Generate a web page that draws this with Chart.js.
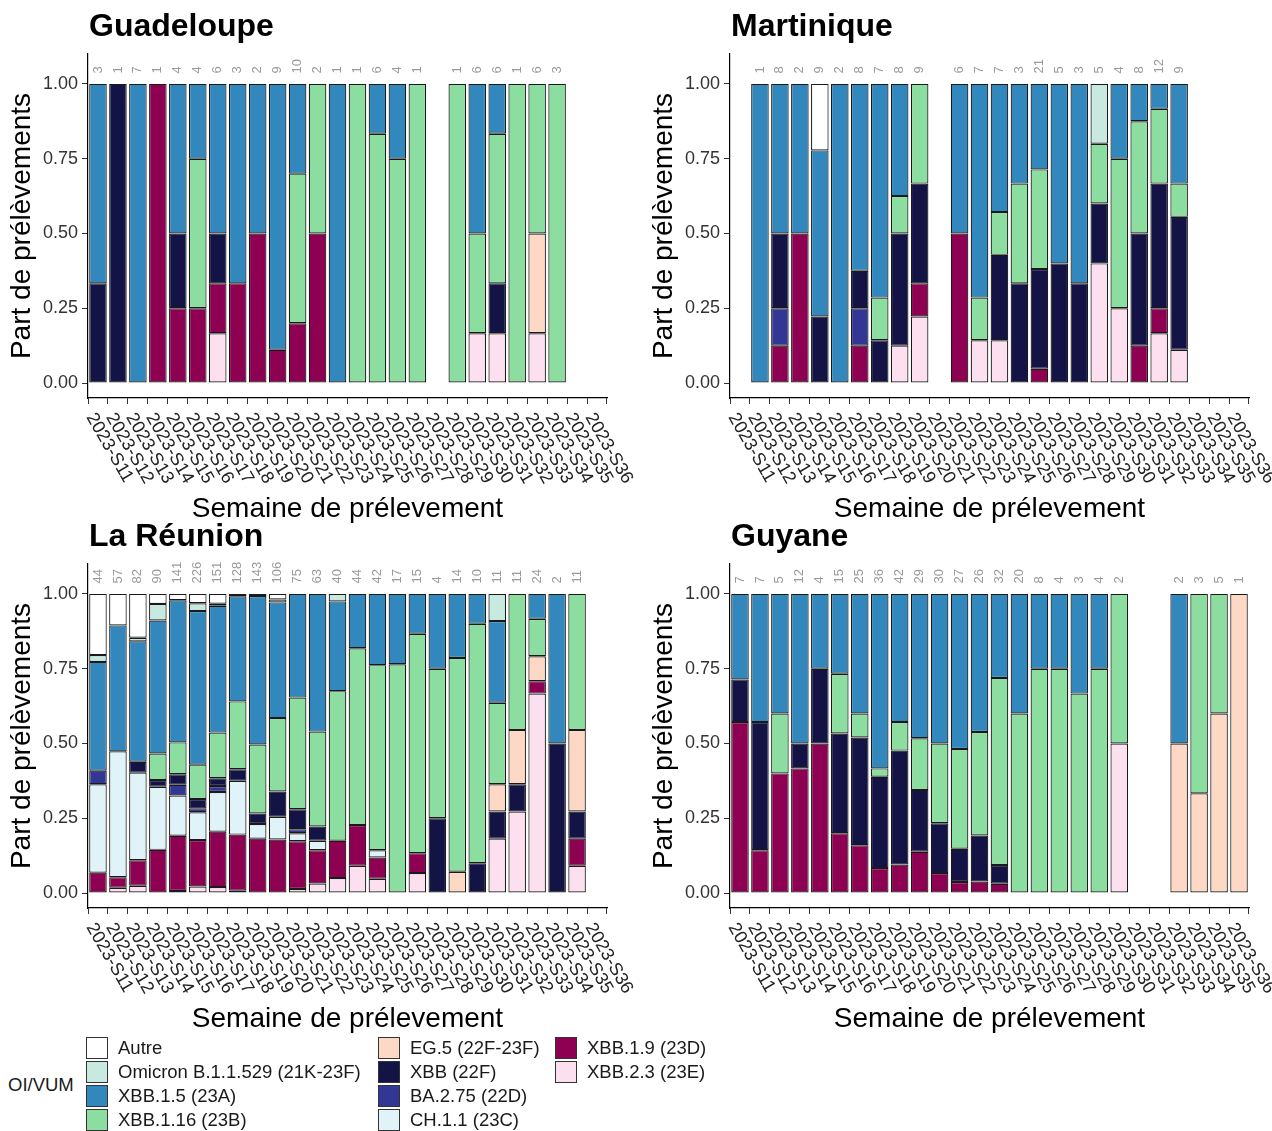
<!DOCTYPE html>
<html>
<head>
<meta charset="utf-8">
<script src="https://cdn.jsdelivr.net/npm/chart.js@4.4.1/dist/chart.umd.min.js"></script>
<style>
  body { margin: 0; background: #fff; font-family: "Liberation Sans", Arial, sans-serif; }
  #fig { position: relative; width: 1272px; height: 1131px; overflow: hidden; }
  #fig canvas { position: absolute; }
  .key { position: absolute; font-size: 18.5px; color: #1a1a1a; white-space: nowrap; line-height: 22px; }
  .key span { position: absolute; left: 0; top: 0; width: 20px; height: 20px; border: 1px solid #333; }
  .key b { font-weight: normal; position: absolute; left: 32px; top: 0; }
</style>
</head>
<body>
<div id="fig">
  <canvas id="c-gp" width="642" height="530" style="left:0;top:0"></canvas>
  <canvas id="c-mq" width="630" height="530" style="left:642px;top:0"></canvas>
  <canvas id="c-re" width="642" height="530" style="left:0;top:510px"></canvas>
  <canvas id="c-gy" width="630" height="530" style="left:642px;top:510px"></canvas>
  <div id="legend"></div>
</div>
<script>
const weeks = ['2023-S11', '2023-S12', '2023-S13', '2023-S14', '2023-S15', '2023-S16', '2023-S17',
    '2023-S18', '2023-S19', '2023-S20', '2023-S21', '2023-S22', '2023-S23', '2023-S24', '2023-S25',
    '2023-S26', '2023-S27', '2023-S28', '2023-S29', '2023-S30', '2023-S31', '2023-S32', '2023-S33',
    '2023-S34', '2023-S35', '2023-S36'];
const yTicks = [0, 0.25, 0.5, 0.75, 1];

const variantNames = ['Autre', 'Omicron B.1.1.529 (21K-23F)', 'XBB.1.5 (23A)', 'XBB.1.16 (23B)',
    'EG.5 (22F-23F)', 'XBB (22F)', 'BA.2.75 (22D)', 'CH.1.1 (23C)', 'XBB.1.9 (23D)', 'XBB.2.3 (23E)'];
const variantColors = ['#ffffff', '#c7e9e0', '#3288bd', '#8cdea0',
    '#fdd9c5', '#131346', '#323695', '#e0f3f8', '#8e0152', '#fde0ef'];

// number of sequenced samples per week (labels above the bars)
const gpTotals = [3, 1, 7, 1, 4, 4, 6, 3, 2, 9, 10, 2, 1, 1, 6, 4, 1, 0, 1, 6, 6, 1, 6, 3, 0, 0];
const mqTotals = [0, 1, 8, 2, 9, 2, 8, 7, 8, 9, 0, 6, 7, 7, 3, 21, 5, 3, 5, 4, 8, 12, 9, 0, 0, 0];
const reTotals = [44, 57, 82, 90, 141, 226, 151, 128, 143, 106, 75, 63, 40, 44, 42, 17, 15, 4, 14, 10, 11, 11, 24, 2, 11, 0];
const gyTotals = [7, 7, 5, 12, 4, 15, 25, 36, 42, 29, 30, 27, 26, 32, 20, 8, 4, 3, 4, 2, 0, 0, 2, 3, 5, 1];

// Guadeloupe, samples per variant
const gpXBB15  = [2, 0, 7, 0, 2, 1, 3, 2, 1, 8, 3, 0, 1, 0, 1, 1, 0, 0, 0, 3, 1, 0, 0, 0, 0, 0];
const gpXBB116 = [0, 0, 0, 0, 0, 2, 0, 0, 0, 0, 5, 1, 0, 1, 5, 3, 1, 0, 1, 2, 3, 1, 3, 3, 0, 0];
const gpEG5    = [0, 0, 0, 0, 0, 0, 0, 0, 0, 0, 0, 0, 0, 0, 0, 0, 0, 0, 0, 0, 0, 0, 2, 0, 0, 0];
const gpXBB    = [1, 1, 0, 0, 1, 0, 1, 0, 0, 0, 0, 0, 0, 0, 0, 0, 0, 0, 0, 0, 1, 0, 0, 0, 0, 0];
const gpXBB19  = [0, 0, 0, 1, 1, 1, 1, 1, 1, 1, 2, 1, 0, 0, 0, 0, 0, 0, 0, 0, 0, 0, 0, 0, 0, 0];
const gpXBB23  = [0, 0, 0, 0, 0, 0, 1, 0, 0, 0, 0, 0, 0, 0, 0, 0, 0, 0, 0, 1, 1, 0, 1, 0, 0, 0];

// Martinique
const mqAutre   = [0, 0, 0, 0, 2, 0, 0, 0, 0, 0, 0, 0, 0, 0, 0, 0, 0, 0, 0, 0, 0, 0, 0, 0, 0, 0];
const mqOmicron = [0, 0, 0, 0, 0, 0, 0, 0, 0, 0, 0, 0, 0, 0, 0, 0, 0, 0, 1, 0, 0, 0, 0, 0, 0, 0];
const mqXBB15   = [0, 1, 4, 1, 5, 2, 5, 5, 3, 0, 0, 3, 5, 3, 1, 6, 3, 2, 0, 1, 1, 1, 3, 0, 0, 0];
const mqXBB116  = [0, 0, 0, 0, 0, 0, 0, 1, 1, 3, 0, 0, 1, 1, 1, 7, 0, 0, 1, 2, 3, 3, 1, 0, 0, 0];
const mqXBB     = [0, 0, 2, 0, 2, 0, 1, 1, 3, 3, 0, 0, 0, 2, 1, 7, 2, 1, 1, 0, 3, 5, 4, 0, 0, 0];
const mqBA275   = [0, 0, 1, 0, 0, 0, 1, 0, 0, 0, 0, 0, 0, 0, 0, 0, 0, 0, 0, 0, 0, 0, 0, 0, 0, 0];
const mqXBB19   = [0, 0, 1, 1, 0, 0, 1, 0, 0, 1, 0, 3, 0, 0, 0, 1, 0, 0, 0, 0, 1, 1, 0, 0, 0, 0];
const mqXBB23   = [0, 0, 0, 0, 0, 0, 0, 0, 1, 2, 0, 0, 1, 1, 0, 0, 0, 0, 2, 1, 0, 2, 1, 0, 0, 0];

// La Réunion
const reAutre   = [9, 6, 12, 3, 3, 7, 5, 1, 1, 2, 0, 0, 0, 0, 0, 0, 0, 0, 0, 0, 0, 0, 0, 0, 0, 0];
const reOmicron = [1, 0, 1, 5, 0, 6, 1, 0, 0, 1, 0, 0, 1, 0, 0, 0, 0, 0, 0, 0, 1, 0, 0, 0, 0, 0];
const reXBB15   = [16, 24, 33, 40, 67, 116, 64, 45, 71, 41, 26, 29, 12, 8, 10, 4, 2, 1, 3, 1, 3, 0, 2, 1, 0, 0];
const reXBB116  = [0, 0, 0, 8, 15, 26, 23, 29, 33, 26, 28, 20, 20, 26, 26, 13, 11, 2, 10, 8, 3, 5, 3, 0, 5, 0];
const reEG5     = [0, 0, 0, 0, 0, 0, 0, 0, 0, 0, 0, 0, 0, 0, 0, 0, 0, 0, 1, 0, 1, 2, 2, 0, 3, 0];
const reXBB     = [0, 0, 3, 2, 5, 7, 4, 5, 5, 9, 5, 3, 0, 0, 0, 0, 0, 1, 0, 1, 1, 1, 0, 1, 1, 0];
const reBA275   = [2, 0, 0, 0, 5, 3, 3, 0, 0, 0, 1, 0, 0, 0, 0, 0, 0, 0, 0, 0, 0, 0, 0, 0, 0, 0];
const reCH11    = [13, 24, 24, 19, 19, 21, 20, 23, 7, 8, 2, 2, 0, 0, 1, 0, 0, 0, 0, 0, 0, 0, 0, 0, 0, 0];
const reXBB19   = [3, 2, 7, 13, 26, 35, 28, 24, 26, 19, 12, 7, 5, 6, 3, 0, 1, 0, 0, 0, 0, 0, 1, 0, 1, 0];
const reXBB23   = [0, 1, 2, 0, 1, 5, 3, 1, 0, 0, 1, 2, 2, 4, 2, 0, 1, 0, 0, 0, 2, 3, 16, 0, 1, 0];

// Guyane
const gyXBB15  = [2, 3, 2, 6, 1, 4, 10, 21, 18, 14, 15, 14, 12, 9, 8, 2, 1, 1, 1, 0, 0, 0, 1, 0, 0, 0];
const gyXBB116 = [0, 0, 1, 0, 0, 3, 2, 1, 4, 5, 8, 9, 9, 20, 12, 6, 3, 2, 3, 1, 0, 0, 0, 2, 2, 0];
const gyEG5    = [0, 0, 0, 0, 0, 0, 0, 0, 0, 0, 0, 0, 0, 0, 0, 0, 0, 0, 0, 0, 0, 0, 1, 1, 3, 1];
const gyXBB    = [1, 3, 0, 1, 1, 5, 9, 11, 16, 6, 5, 3, 4, 2, 0, 0, 0, 0, 0, 0, 0, 0, 0, 0, 0, 0];
const gyXBB19  = [4, 1, 2, 5, 2, 3, 4, 3, 4, 4, 2, 1, 1, 1, 0, 0, 0, 0, 0, 0, 0, 0, 0, 0, 0, 0];
const gyXBB23  = [0, 0, 0, 0, 0, 0, 0, 0, 0, 0, 0, 0, 0, 0, 0, 0, 0, 0, 0, 1, 0, 0, 0, 0, 0, 0];

const FONT = '"Liberation Sans", Arial, sans-serif';
Chart.defaults.font.family = FONT;

const panelTitle = {
    id: 'panelTitle',
    afterDraw(chart, args, opts) {
        const ctx = chart.ctx;
        ctx.save();
        ctx.font = 'bold 32px ' + FONT;
        ctx.fillStyle = '#000';
        ctx.textBaseline = 'alphabetic';
        ctx.fillText(opts.text, chart.chartArea.left + 1, opts.baseline);
        ctx.restore();
    }
};

// sample counts, rotated, above each bar
const countLabels = {
    id: 'countLabels',
    afterDatasetsDraw(chart, args, opts) {
        const {ctx, scales: {x, y}} = chart;
        ctx.save();
        ctx.font = '13px ' + FONT;
        ctx.fillStyle = '#9a9a9a';
        ctx.textAlign = 'left';
        ctx.textBaseline = 'middle';
        opts.totals.forEach((n, i) => {
            if (!n) return;
            ctx.save();
            ctx.translate(x.getPixelForValue(i), y.getPixelForValue(1.035));
            ctx.rotate(-Math.PI / 2);
            ctx.fillText(String(n), 0, 0);
            ctx.restore();
        });
        ctx.restore();
    }
};

// week labels slanted downwards to the right
const weekLabels = {
    id: 'weekLabels',
    afterDraw(chart) {
        const {ctx, scales: {x}} = chart;
        ctx.save();
        ctx.font = '18px ' + FONT;
        ctx.fillStyle = '#222';
        ctx.textAlign = 'left';
        ctx.textBaseline = 'top';
        weeks.forEach((w, i) => {
            ctx.save();
            ctx.translate(x.getPixelForTick(i), x.top + 12);
            ctx.rotate(60 * Math.PI / 180);
            ctx.fillText(w, 0, 0);
            ctx.restore();
        });
        ctx.restore();
    }
};

function makePanel(canvasId, title, totals, series, padRight) {
    // series are listed bottom -> top
    const sums = weeks.map((w, i) => series.reduce((s, [, counts]) => s + counts[i], 0));
    const datasets = series.map(([name, counts]) => ({
        label: name,
        data: counts.map((c, i) => c > 0 ? c / sums[i] : null),
        backgroundColor: variantColors[variantNames.indexOf(name)],
        borderColor: '#1a1a1a',
        borderWidth: 1.2,
        borderSkipped: false,
        barPercentage: 0.88,
        categoryPercentage: 1
    }));

    return new Chart(document.getElementById(canvasId), {
        type: 'bar',
        data: { labels: weeks, datasets: datasets },
        plugins: [panelTitle, countLabels, weekLabels],
        options: {
            responsive: false,
            animation: false,
            layout: { padding: { top: 54, left: 0, right: padRight, bottom: 0 } },
            plugins: {
                legend: { display: false },
                tooltip: { enabled: false },
                panelTitle: { text: title, baseline: 36 },
                countLabels: { totals: totals }
            },
            scales: {
                x: {
                    stacked: true,
                    offset: true,
                    grid: { drawOnChartArea: false, drawTicks: true, tickLength: 6, color: '#333', lineWidth: 1 },
                    border: { display: true, color: '#000', width: 1.2 },
                    ticks: { display: false },
                    title: {
                        display: true, text: 'Semaine de prélevement', color: '#000',
                        font: { size: 28 }, padding: { top: 0, bottom: 4 }
                    },
                    afterFit: scale => { scale.height = 132; }
                },
                y: {
                    stacked: true,
                    min: -0.05,
                    max: 1.1,
                    afterBuildTicks: scale => { scale.ticks = yTicks.map(v => ({ value: v })); },
                    grid: { drawOnChartArea: false, drawTicks: true, tickLength: 6, color: '#333', lineWidth: 1 },
                    border: { display: true, color: '#000', width: 1.2 },
                    ticks: {
                        color: '#333', font: { size: 18 }, padding: 4,
                        callback: v => Number(v).toFixed(2)
                    },
                    title: {
                        display: true, text: 'Part de prélèvements', color: '#000',
                        font: { size: 28 }, padding: { top: 5, bottom: 0 }
                    },
                    afterFit: scale => { scale.width = 88; }
                }
            }
        }
    });
}

makePanel('c-gp', 'Guadeloupe', gpTotals, [
    ['XBB.2.3 (23E)', gpXBB23], ['XBB.1.9 (23D)', gpXBB19], ['XBB (22F)', gpXBB],
    ['EG.5 (22F-23F)', gpEG5], ['XBB.1.16 (23B)', gpXBB116], ['XBB.1.5 (23A)', gpXBB15]
], 35);

makePanel('c-mq', 'Martinique', mqTotals, [
    ['XBB.2.3 (23E)', mqXBB23], ['XBB.1.9 (23D)', mqXBB19], ['BA.2.75 (22D)', mqBA275], ['XBB (22F)', mqXBB],
    ['XBB.1.16 (23B)', mqXBB116], ['XBB.1.5 (23A)', mqXBB15],
    ['Omicron B.1.1.529 (21K-23F)', mqOmicron], ['Autre', mqAutre]
], 23);

makePanel('c-re', 'La Réunion', reTotals, [
    ['XBB.2.3 (23E)', reXBB23], ['XBB.1.9 (23D)', reXBB19], ['CH.1.1 (23C)', reCH11], ['BA.2.75 (22D)', reBA275],
    ['XBB (22F)', reXBB], ['EG.5 (22F-23F)', reEG5], ['XBB.1.16 (23B)', reXBB116], ['XBB.1.5 (23A)', reXBB15],
    ['Omicron B.1.1.529 (21K-23F)', reOmicron], ['Autre', reAutre]
], 35);

makePanel('c-gy', 'Guyane', gyTotals, [
    ['XBB.2.3 (23E)', gyXBB23], ['XBB.1.9 (23D)', gyXBB19], ['XBB (22F)', gyXBB],
    ['EG.5 (22F-23F)', gyEG5], ['XBB.1.16 (23B)', gyXBB116], ['XBB.1.5 (23A)', gyXBB15]
], 23);

// legend: 3 columns of 4 rows, like the ggplot guide
function renderLegend() {
    const legend = document.getElementById('legend');
    const colLeft = [86, 378, 555];
    let html = '<div class="key" style="left:8px;top:1074px">OI/VUM</div>';
    variantNames.forEach((name, i) => {
        const left = colLeft[Math.floor(i / 4)];
        const top = 1037 + (i % 4) * 24;
        html += `<div class="key" style="left:${left}px;top:${top}px">` +
            `<span style="background:${variantColors[i]}"></span><b>${name}</b></div>`;
    });
    legend.innerHTML = html;
}
renderLegend();
</script>
</body>
</html>
